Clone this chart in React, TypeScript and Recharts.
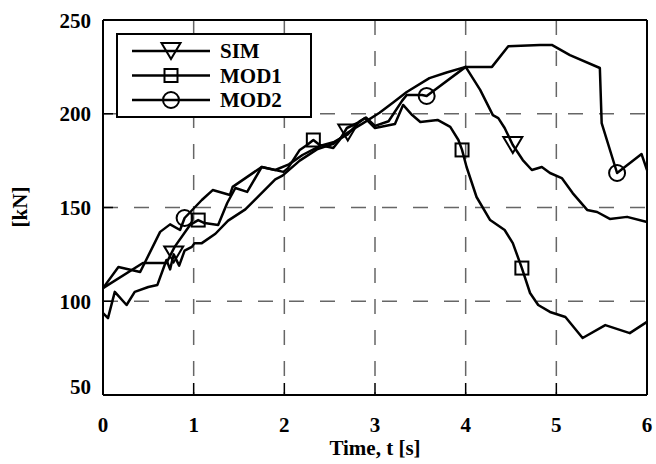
import React from 'react';
import { LineChart, Line, XAxis, YAxis, CartesianGrid, ReferenceLine, Legend } from 'recharts';

// Axis ticks
const xTicks = [0, 1, 2, 3, 4, 5, 6];
const yTicks = [50, 100, 150, 200, 250];

// SIM series: time [s] and force [kN]
const simT = [0, 0.055, 0.13, 0.26, 0.35, 0.5, 0.6, 0.7, 0.74, 0.78, 0.84, 0.9, 0.98, 1.01, 1.09, 1.24, 1.38, 1.57, 1.9, 1.98, 2.17, 2.36, 2.54, 2.7, 2.87, 3.05, 3.2, 3.35, 3.6, 3.79, 4.0, 4.16, 4.3, 4.36, 4.43, 4.52, 4.63, 4.73, 4.84, 4.93, 5.06, 5.18, 5.34, 5.45, 5.59, 5.78, 6.0];
const simF = [93.7, 91, 105, 98, 105, 107.6, 108.7, 122, 117, 125, 119, 127, 129, 131, 131, 136, 143, 149, 165, 167, 175, 181, 184, 190, 195, 200.5, 206, 211.6, 219, 222, 225, 212.7, 199.3, 197.7, 192.4, 183.3, 175.3, 170, 171.6, 168.4, 165.7, 157.7, 148.7, 147.6, 143.9, 145, 142.3];
const simMarkT = [0.78, 2.7, 4.52];

// MOD1 series
const mod1T = [0, 0.44, 0.7, 0.79, 0.96, 1.05, 1.12, 1.27, 1.37, 1.46, 1.59, 1.75, 1.99, 2.04, 2.17, 2.25, 2.32, 2.39, 2.54, 2.61, 2.69, 2.83, 2.89, 3.0, 3.22, 3.31, 3.41, 3.5, 3.69, 3.83, 3.92, 3.96, 4.01, 4.12, 4.27, 4.43, 4.52, 4.62, 4.71, 4.8, 4.93, 5.1, 5.29, 5.54, 5.81, 6.0];
const mod1F = [107, 120.4, 120.4, 129, 140.7, 143.3, 141.7, 140.7, 152.4, 160.4, 158.3, 171.6, 169, 171, 180.7, 183.3, 186, 183.3, 181.7, 186, 192.4, 195.6, 197.7, 192.4, 194.5, 204.7, 199.3, 195.6, 196.7, 193, 186, 180.7, 171.6, 155.6, 143.3, 138, 131, 117.7, 104.4, 98, 94.3, 91.6, 80.4, 87.3, 83, 89];
const mod1MarkT = [1.05, 2.32, 3.96, 4.62];

// MOD2 series
const mod2T = [0, 0.17, 0.41, 0.63, 0.74, 0.85, 0.9, 1.09, 1.21, 1.4, 1.43, 1.75, 1.9, 2.05, 2.2, 2.4, 2.55, 2.7, 2.83, 2.9, 3.0, 3.15, 3.3, 3.35, 3.52, 3.57, 4.0, 4.29, 4.47, 4.82, 4.95, 5.15, 5.48, 5.5, 5.67, 5.94, 6.0];
const mod2F = [107, 118.3, 115.6, 137, 141, 138, 144.4, 154, 159.3, 156.7, 161, 171.6, 170, 173, 178, 183, 185, 189, 196, 198, 193.5, 196, 207, 210, 210, 209.5, 225, 225, 236, 236.7, 236.7, 231.3, 224.4, 195, 168.4, 178.5, 170];
const mod2MarkT = [0.9, 3.57, 5.67];

const seriesNames = ['SIM', 'MOD1', 'MOD2'];

const toRows = (t: number[], f: number[]) => t.map((v, i) => ({ t: v, f: f[i] }));
const simRows = toRows(simT, simF);
const mod1Rows = toRows(mod1T, mod1F);
const mod2Rows = toRows(mod2T, mod2F);

const FONT = '"Liberation Serif", "Times New Roman", Times, serif';
const LINE_W = 2.5;

type Shape = 'triangle' | 'square' | 'circle';

const Marker = ({ cx, cy, shape }: { cx: number; cy: number; shape: Shape }) => {
  if (shape === 'triangle') {
    return (
      <polygon
        points={`${cx - 9.5},${cy - 8} ${cx + 9.5},${cy - 8} ${cx},${cy + 8}`}
        fill="none"
        stroke="#000"
        strokeWidth={2}
        strokeLinejoin="miter"
      />
    );
  }
  if (shape === 'square') {
    return <rect x={cx - 6.5} y={cy - 6.5} width={13} height={13} fill="none" stroke="#000" strokeWidth={2} />;
  }
  return <circle cx={cx} cy={cy} r={8} fill="none" stroke="#000" strokeWidth={2} />;
};

const makeDot = (shape: Shape, marks: number[]) => (p: any) => {
  const key = `dot-${shape}-${p.index}`;
  if (p.payload && marks.includes(p.payload.t)) {
    return (
      <g key={key}>
        <Marker cx={p.cx} cy={p.cy} shape={shape} />
      </g>
    );
  }
  return <g key={key} />;
};

const XTick = (props: any) => {
  const { x, y, payload } = props;
  return (
    <g>
      <line x1={x} y1={y} x2={x} y2={y - 12} stroke="#000" strokeWidth={1.5} />
      <text x={x} y={y + 37} textAnchor="middle" fontFamily={FONT} fontWeight="bold" fontSize={21} fill="#000">
        {payload.value}
      </text>
    </g>
  );
};

const YTick = (props: any) => {
  const { x, y, payload } = props;
  const dy = payload.value === 50 ? -1 : 7.5;
  return (
    <g>
      <line x1={x} y1={y} x2={x + 10} y2={y} stroke="#000" strokeWidth={1.5} />
      <text x={x - 12} y={y + dy} textAnchor="end" fontFamily={FONT} fontWeight="bold" fontSize={21} fill="#000">
        {payload.value}
      </text>
    </g>
  );
};

const shapes: Shape[] = ['triangle', 'square', 'circle'];

const LegendBox = () => (
  <div
    style={{
      width: 196,
      height: 85,
      boxSizing: 'border-box',
      border: '2px solid #000',
      background: '#fff',
    }}
  >
    <svg width={192} height={81} style={{ display: 'block' }}>
      {seriesNames.map((name, i) => {
        const y = 16 + i * 24.5;
        return (
          <g key={name}>
            <line x1={14} y1={y} x2={92} y2={y} stroke="#000" strokeWidth={LINE_W} />
            <Marker cx={53} cy={y} shape={shapes[i]} />
            <text x={102} y={y + 7} fontFamily={FONT} fontWeight="bold" fontSize={21} fill="#000">
              {name}
            </text>
          </g>
        );
      })}
    </svg>
  </div>
);

export default function App() {
  return (
    <div style={{ position: 'absolute', left: 0, top: 0, background: '#fff' }}>
      <LineChart width={656} height={464} margin={{ top: 20, right: 9, bottom: 29, left: 43 }}>
        <CartesianGrid
          stroke="#666"
          strokeWidth={1.5}
          strokeDasharray="15 16"
          horizontalValues={yTicks}
          verticalValues={xTicks}
        />
        <XAxis
          dataKey="t"
          type="number"
          domain={[0, 6]}
          ticks={xTicks}
          allowDuplicatedCategory={false}
          height={40}
          tickSize={0}
          tickMargin={0}
          tickLine={false}
          axisLine={{ stroke: '#000', strokeWidth: 2 }}
          tick={<XTick />}
          interval={0}
          label={{
            content: (p: any) => {
              const vb = p.viewBox || { x: 103, y: 395, width: 544 };
              return (
                <text
                  x={vb.x + vb.width / 2}
                  y={vb.y + 60}
                  textAnchor="middle"
                  fontFamily={FONT}
                  fontWeight="bold"
                  fontSize={21}
                  fill="#000"
                >
                  Time, t [s]
                </text>
              );
            },
          }}
        />
        <YAxis
          type="number"
          domain={[50, 250]}
          ticks={yTicks}
          width={60}
          tickSize={0}
          tickMargin={0}
          tickLine={false}
          axisLine={{ stroke: '#000', strokeWidth: 2 }}
          tick={<YTick />}
          interval={0}
          label={{
            content: () => (
              <text
                x={20}
                y={207}
                transform="rotate(-90 20 207)"
                textAnchor="middle"
                dominantBaseline="central"
                fontFamily={FONT}
                fontWeight="bold"
                fontSize={21}
                fill="#000"
              >
                [kN]
              </text>
            ),
          }}
        />
        <ReferenceLine y={250} stroke="#000" strokeWidth={2} />
        <ReferenceLine x={6} stroke="#000" strokeWidth={2} />
        <Line
          data={simRows}
          dataKey="f"
          name="SIM"
          type="linear"
          stroke="#000"
          strokeWidth={LINE_W}
          strokeLinejoin="round"
          dot={makeDot('triangle', simMarkT)}
          activeDot={false}
          isAnimationActive={false}
        />
        <Line
          data={mod1Rows}
          dataKey="f"
          name="MOD1"
          type="linear"
          stroke="#000"
          strokeWidth={LINE_W}
          strokeLinejoin="round"
          dot={makeDot('square', mod1MarkT)}
          activeDot={false}
          isAnimationActive={false}
        />
        <Line
          data={mod2Rows}
          dataKey="f"
          name="MOD2"
          type="linear"
          stroke="#000"
          strokeWidth={LINE_W}
          strokeLinejoin="round"
          dot={makeDot('circle', mod2MarkT)}
          activeDot={false}
          isAnimationActive={false}
        />
        <Legend
          layout="vertical"
          align="center"
          verticalAlign="middle"
          content={<LegendBox />}
          wrapperStyle={{ left: 116, top: 33, width: 196, height: 85 }}
        />
      </LineChart>
    </div>
  );
}
